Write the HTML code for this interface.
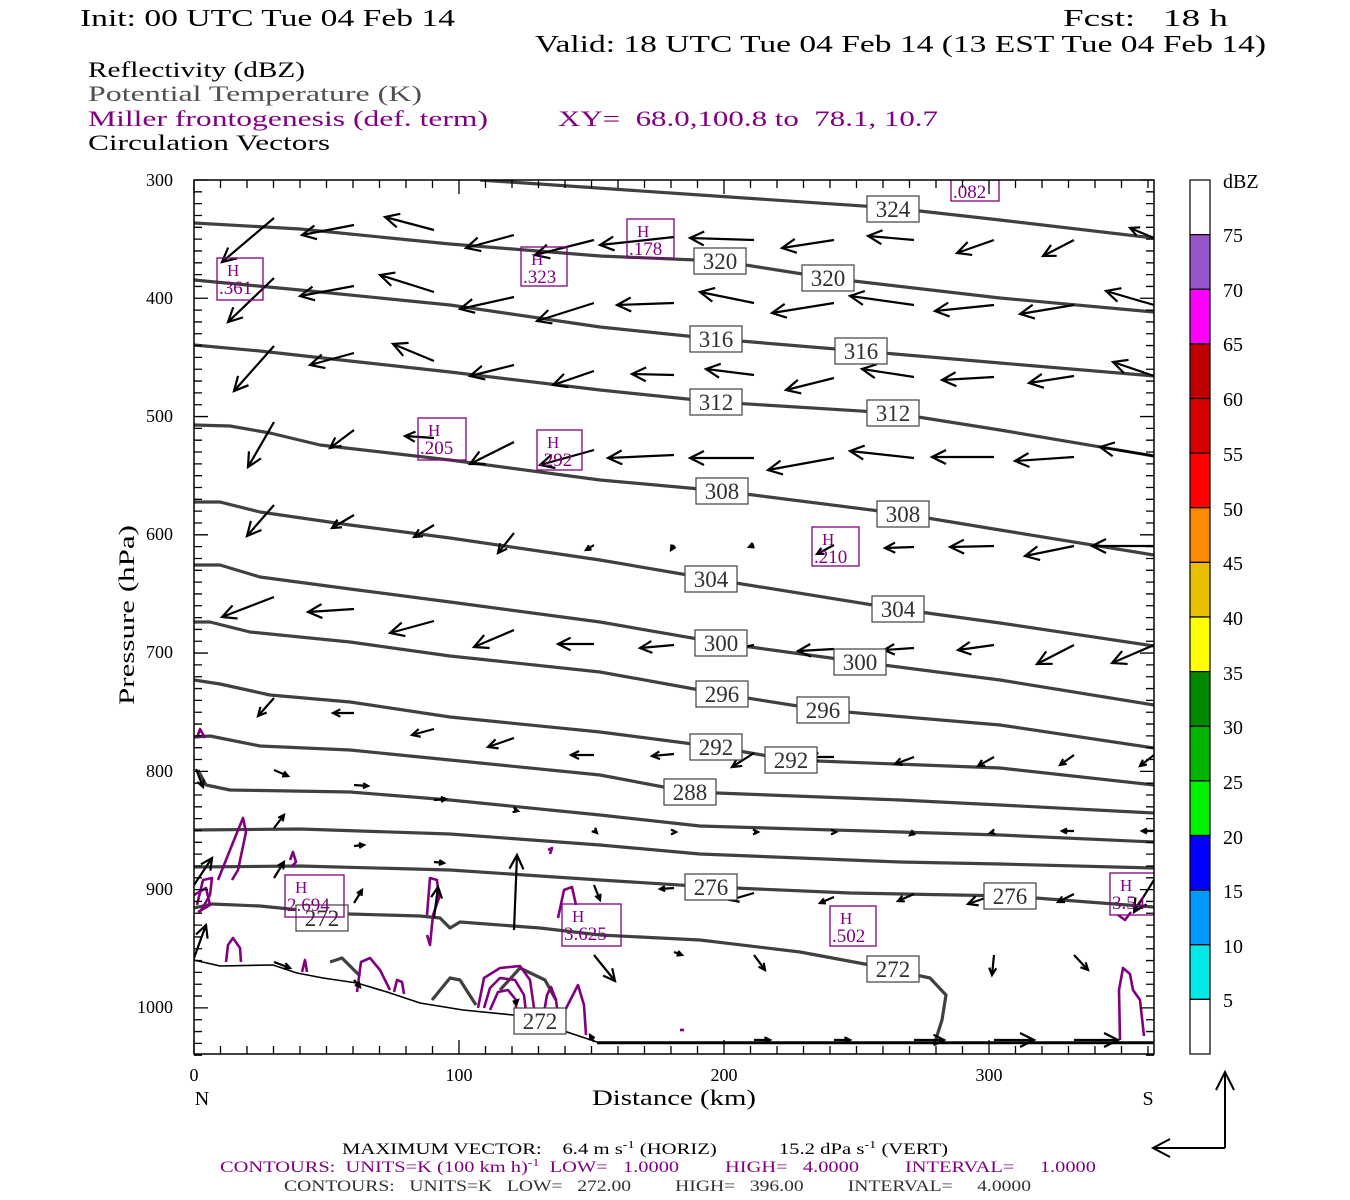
<!DOCTYPE html>
<html><head><meta charset="utf-8"><style>
html,body{margin:0;padding:0;background:#fff}
svg{display:block}
text{font-family:"Liberation Serif",serif;white-space:pre}
</style></head><body>
<svg id="s" width="1350" height="1200" viewBox="0 0 1350 1200" xmlns="http://www.w3.org/2000/svg" xml:space="preserve">
<rect width="1350" height="1200" fill="#fff"/>
<text x="80" y="26" font-size="24" textLength="375" lengthAdjust="spacingAndGlyphs">Init: 00 UTC Tue 04 Feb 14</text>
<text x="1063" y="26" font-size="24" textLength="165" lengthAdjust="spacingAndGlyphs">Fcst:   18 h</text>
<text x="535" y="52" font-size="24" textLength="731" lengthAdjust="spacingAndGlyphs">Valid: 18 UTC Tue 04 Feb 14 (13 EST Tue 04 Feb 14)</text>
<text x="88" y="77" font-size="22" textLength="217" lengthAdjust="spacingAndGlyphs">Reflectivity (dBZ)</text>
<text x="88" y="101" font-size="22" fill="#505050" textLength="334" lengthAdjust="spacingAndGlyphs">Potential Temperature (K)</text>
<text x="88" y="126" font-size="22" fill="#800080" textLength="400" lengthAdjust="spacingAndGlyphs">Miller frontogenesis (def. term)</text>
<text x="558" y="126" font-size="22" fill="#800080" textLength="380" lengthAdjust="spacingAndGlyphs">XY=  68.0,100.8 to  78.1, 10.7</text>
<text x="88" y="150" font-size="22" textLength="242" lengthAdjust="spacingAndGlyphs">Circulation Vectors</text>

<g id="plot"></g>

<g font-size="18">
<text x="173" y="186" text-anchor="end">300</text>
<text x="173" y="304" text-anchor="end">400</text>
<text x="173" y="422" text-anchor="end">500</text>
<text x="173" y="540" text-anchor="end">600</text>
<text x="173" y="658" text-anchor="end">700</text>
<text x="173" y="777" text-anchor="end">800</text>
<text x="173" y="895" text-anchor="end">900</text>
<text x="173" y="1013" text-anchor="end">1000</text>
<text x="194" y="1081" text-anchor="middle">0</text>
<text x="459" y="1081" text-anchor="middle">100</text>
<text x="724" y="1081" text-anchor="middle">200</text>
<text x="989" y="1081" text-anchor="middle">300</text>
<text x="202" y="1105" text-anchor="middle" font-size="20">N</text>
<text x="1148" y="1105" text-anchor="middle" font-size="20">S</text>
</g>
<text x="592" y="1105" font-size="22" textLength="164" lengthAdjust="spacingAndGlyphs">Distance (km)</text>
<text transform="translate(134,705) rotate(-90)" font-size="22" textLength="180" lengthAdjust="spacingAndGlyphs">Pressure (hPa)</text>

<g id="cb"></g>
<g font-size="20">
<text x="1223" y="188">dBZ</text>
<text x="1223" y="242">75</text><text x="1223" y="297">70</text><text x="1223" y="351">65</text>
<text x="1223" y="406">60</text><text x="1223" y="461">55</text><text x="1223" y="516">50</text>
<text x="1223" y="570">45</text><text x="1223" y="625">40</text><text x="1223" y="680">35</text>
<text x="1223" y="734">30</text><text x="1223" y="789">25</text><text x="1223" y="844">20</text>
<text x="1223" y="898">15</text><text x="1223" y="953">10</text><text x="1223" y="1007">5</text>
</g>

<g stroke="#000" stroke-width="2" fill="none">
<path d="M1225 1148 L1225 1072 M1216 1090 L1225 1072 L1234 1090"/>
<path d="M1225 1148 L1153 1148 M1170 1139 L1153 1148 L1170 1157"/>
</g>

<text x="342" y="1154" font-size="16" textLength="606" lengthAdjust="spacingAndGlyphs">MAXIMUM VECTOR:    6.4 m s<tspan font-size="11" dy="-6">-1</tspan><tspan dy="6"> (HORIZ)            15.2 dPa s</tspan><tspan font-size="11" dy="-6">-1</tspan><tspan dy="6"> (VERT)</tspan></text>
<text x="220" y="1172" font-size="16" fill="#800080" textLength="876" lengthAdjust="spacingAndGlyphs">CONTOURS:  UNITS=K (100 km h)<tspan font-size="11" dy="-6">-1</tspan><tspan dy="6">  LOW=   1.0000         HIGH=   4.0000         INTERVAL=     1.0000</tspan></text>
<text x="284" y="1191" font-size="16" fill="#303030" textLength="747" lengthAdjust="spacingAndGlyphs">CONTOURS:   UNITS=K   LOW=   272.00         HIGH=   396.00         INTERVAL=     4.0000</text>
</svg>
<script>
var NS="http://www.w3.org/2000/svg";
function el(p,t,a,txt){var e=document.createElementNS(NS,t);for(var k in a)e.setAttribute(k,a[k]);if(txt!=null)e.textContent=txt;p.appendChild(e);return e;}
var P=document.getElementById('plot');
var L=194,R=1154,T=180,B=1054;
var defs=el(P,'defs',{});var cp=el(defs,'clipPath',{id:'c'});el(cp,'rect',{x:L,y:T,width:R-L,height:B-T});
var g=el(P,'g',{'clip-path':'url(#c)'});
var th=[
[[480,180],[700,195],[893,208],[1000,220],[1154,238]],
[[194,223],[300,229],[450,244],[600,256],[720,261],[828,278],[1000,298],[1154,312]],
[[194,280],[300,290],[450,305],[600,327],[716,339],[860,351],[1000,363],[1154,376]],
[[194,345],[260,351],[350,361],[450,372],[600,390],[716,402],[893,413],[1000,430],[1154,456]],
[[194,425],[230,426],[270,433],[320,445],[450,460],[600,480],[722,491],[903,514],[1000,530],[1154,555]],
[[194,502],[220,502],[260,512],[350,525],[450,538],[600,560],[711,579],[898,609],[1000,623],[1154,646]],
[[194,565],[220,565],[260,577],[350,589],[450,602],[600,622],[721,643],[860,662],[1000,680],[1154,705]],
[[194,622],[210,622],[250,632],[350,642],[450,656],[600,672],[722,694],[823,710],[1000,725],[1154,748]],
[[194,680],[220,684],[270,695],[350,702],[450,717],[600,732],[716,747],[791,760],[1000,768],[1154,785]],
[[194,737],[210,736],[260,746],[350,750],[450,760],[600,775],[690,792],[900,800],[1000,805],[1154,813]],
[[198,770],[206,785],[230,790],[350,792],[450,800],[600,815],[700,826],[900,832],[1000,835],[1154,842]],
[[194,830],[300,829],[450,834],[600,845],[700,854],[900,862],[1000,864],[1154,868]],
[[194,867],[300,866],[450,870],[600,880],[711,887],[850,893],[1010,896],[1154,907]],
[[194,908],[212,904],[260,906],[300,910],[350,914],[420,916],[440,918],[450,928],[460,922],[540,928],[600,935],[700,940],[800,952],[870,965],[930,978],[946,995],[942,1020],[935,1042]],
[[330,962],[342,958],[360,976]],[[432,1000],[450,978],[460,980],[476,1005]],
[[500,990],[520,968],[545,980],[556,1000]]
];
th.forEach(function(p){el(g,'polyline',{points:p.map(function(q){return q.join(',')}).join(' '),fill:'none',stroke:'#404040','stroke-width':3.2,'stroke-linejoin':'round'});});
var gr=[[194,960],[220,966],[273,965],[297,973],[323,978],[357,983],[387,992],[420,1003],[463,1010],[513,1015],[547,1025],[567,1032],[597,1042],[1154,1042]];
el(g,'polyline',{points:gr.map(function(q){return q.join(',')}).join(' '),fill:'none',stroke:'#000','stroke-width':1.6});
el(g,'line',{x1:597,y1:1043,x2:1154,y2:1043,stroke:'#000','stroke-width':2.5});
var mg=[
[[218,880],[232,845],[243,818],[246,832],[238,870],[232,880]],
[[197,905],[203,880],[212,878],[210,895],[200,912]],
[[226,962],[228,945],[233,938],[240,948],[241,962]],
[[194,895],[206,888],[210,905],[198,912]],
[[197,738],[200,729],[205,738]],
[[290,860],[293,852],[296,862],[292,866]],
[[427,915],[430,878],[437,880],[439,898],[433,915],[430,945],[427,935]],
[[558,918],[564,890],[572,887],[576,905]],
[[302,972],[305,960],[307,972]],
[[357,992],[361,962],[370,958],[380,970],[390,990]],
[[394,992],[397,980],[402,982],[404,994]],
[[478,1008],[484,978],[500,968],[520,966],[530,980],[534,1008]],
[[484,1008],[490,988],[500,978],[515,980],[524,995],[526,1012]],
[[490,1010],[498,992],[508,990],[516,1000],[516,1015]],
[[542,1024],[547,995],[551,987],[556,1000],[560,1030]],
[[555,1030],[578,985],[584,1005],[586,1035]],
[[1120,1040],[1119,990],[1123,968],[1130,974],[1133,990],[1140,1000],[1144,1036]],
[[1118,915],[1125,920],[1131,912]],
[[548,850],[552,848],[550,854]],[[680,1030],[684,1030]]
];
mg.forEach(function(p){el(g,'polyline',{points:p.map(function(q){return q.join(',')}).join(' '),fill:'none',stroke:'#800080','stroke-width':2.6,'stroke-linejoin':'round'});});
var A=[
[274,218,222,262],[354,225,302,235],[434,230,385,217],[514,235,466,248],[594,240,535,255],[674,237,600,245],[754,240,690,238],[834,240,782,248],[914,240,868,236],[994,240,957,253],[1074,240,1043,256],[1154,238,1130,228],
[274,278,228,322],[354,286,300,296],[434,292,380,275],[514,297,460,309],[594,303,537,321],[674,303,617,305],[754,303,700,292],[834,303,772,313],[914,305,850,296],[994,305,935,311],[1074,305,1020,314],[1154,305,1106,291],
[274,346,234,391],[354,353,310,365],[434,361,393,344],[514,365,470,376],[594,371,553,385],[674,375,632,374],[754,375,706,369],[834,378,786,390],[914,377,862,369],[994,377,942,380],[1074,376,1029,383],[1154,376,1113,362],
[274,422,248,467],[354,430,330,448],[434,438,405,436],[514,442,470,464],[594,450,540,465],[674,455,608,458],[754,458,690,458],[834,458,768,470],[914,458,850,451],[994,457,932,457],[1074,457,1015,461],[1154,456,1100,447],
[274,505,247,536],[354,515,332,528],[434,525,414,537],[514,533,498,553],[594,545,586,550],[674,545,671,550],[754,545,749,547],[834,545,817,554],[914,547,885,548],[994,546,950,547],[1074,546,1025,556],[1154,546,1092,546],
[274,597,222,617],[354,609,308,612],[434,621,390,633],[514,630,474,647],[594,644,558,644],[674,645,640,648],[754,645,719,652],[834,649,798,651],[914,648,884,650],[994,645,958,650],[1074,645,1037,664],[1154,645,1112,663],
[274,698,258,716],[354,713,333,713],[434,729,412,735],[514,738,488,747],[594,755,571,755],[674,754,652,756],[754,753,732,767],[834,757,810,757],[914,757,895,764],[994,757,978,766],[1074,755,1060,765],[1154,755,1140,766],
[274,770,288,776],[354,785,368,786],[434,800,446,799],[514,810,518,811],[594,830,597,833],[674,832,676,832],[754,832,758,832],[834,832,836,832],[914,832,910,835],[994,832,990,833],[1074,831,1062,831],[1154,831,1142,831],
[274,828,284,815],[354,846,364,845],[434,862,444,863],[514,930,517,855],[594,885,600,900],[674,888,660,889],[754,893,730,900],[834,897,820,903],[914,894,898,901],[994,895,968,904],[1074,894,1058,902],[1154,880,1134,912],
[274,878,284,862],[354,903,362,890],[434,918,438,887],[194,958,206,925],[194,885,212,858],[196,769,203,787],
[594,955,615,981],[674,952,682,955],[754,955,765,970],[994,955,992,975],[1074,955,1088,970],
[914,1040,944,1040],[994,1040,1034,1040],[1074,1040,1118,1040],[754,1040,770,1040],[834,1040,850,1040],[274,962,290,968],[354,980,360,987],[514,1004,518,1000],[594,1042,590,1035]
];
A.forEach(function(a){var dx=a[2]-a[0],dy=a[3]-a[1],len=Math.sqrt(dx*dx+dy*dy);if(len<0.5)return;
var ux=dx/len,uy=dy/len,h=Math.min(14,Math.max(5,len*0.35)),w=h*0.5;
var bx=a[2]-ux*h,by=a[3]-uy*h;
el(g,'path',{d:'M'+a[0]+' '+a[1]+'L'+a[2]+' '+a[3]+'M'+(bx-uy*w)+' '+(by+ux*w)+'L'+a[2]+' '+a[3]+'L'+(bx+uy*w)+' '+(by-ux*w),fill:'none',stroke:'#000','stroke-width':2.2});});
var TL=[[893,209,'324'],[720,261,'320'],[828,278,'320'],[716,339,'316'],[861,351,'316'],[716,402,'312'],[893,413,'312'],[722,491,'308'],[903,514,'308'],[711,579,'304'],[898,609,'304'],[721,643,'300'],[860,662,'300'],[722,694,'296'],[823,710,'296'],[716,747,'292'],[791,760,'292'],[690,792,'288'],[711,887,'276'],[1010,896,'276'],[322,918,'272'],[893,969,'272'],[540,1021,'272']];
TL.forEach(function(t){el(g,'rect',{x:t[0]-26,y:t[1]-13,width:52,height:26,fill:'#fff',stroke:'#404040','stroke-width':1.2});
el(g,'text',{x:t[0],y:t[1]+8,'font-size':23,'text-anchor':'middle',fill:'#303030'},t[2]);});
var HL=[[951,180,48,21,null,'.082'],[627,219,47,39,'H','.178'],[521,247,46,39,'H','.323'],[217,258,46,42,'H','.361'],[418,418,48,42,'H','.205'],[537,430,45,40,'H','.292'],[812,527,47,39,'H','.210'],[285,875,59,42,'H','2.694'],[562,904,59,42,'H','3.625'],[830,906,46,40,'H','.502'],[1110,873,50,42,'H','3.54']];
HL.forEach(function(h){el(g,'rect',{x:h[0],y:h[1],width:h[2],height:h[3],fill:'none',stroke:'#800080','stroke-width':1.3});
if(h[4]){el(g,'text',{x:h[0]+10,y:h[1]+18,'font-size':17,fill:'#800080'},'H');el(g,'text',{x:h[0]+2,y:h[1]+36,'font-size':19,fill:'#800080'},h[5]);}
else el(g,'text',{x:h[0]+2,y:h[1]+18,'font-size':19,fill:'#800080'},h[5]);});
el(P,'rect',{x:L,y:T,width:R-L,height:B-T,fill:'none',stroke:'#000','stroke-width':1.5});
var tk='';
for(var k=0;k<=36;k++){var x=194+k*26.5,len=(k%10==0)?14:8;tk+='M'+x+' '+B+'v-'+len+'M'+x+' '+T+'v'+len;}
for(var p=300;p<=1040;p+=10){var y=180+(p-300)*1.1827,len=(p%100==0)?14:8;tk+='M'+L+' '+y+'h'+len+'M'+R+' '+y+'h-'+len;}
el(P,'path',{d:tk,stroke:'#000','stroke-width':1.3,fill:'none'});
var CB=document.getElementById('cb');
var cols=['#ffffff','#9955cc','#ff00ff','#c00000','#d60000','#ff0000','#ff8c00','#e8c000','#ffff00','#008800','#00b400','#00f000','#0000ff','#0099ff','#00e8e8','#ffffff'];
var sh=(1054-180)/16;
cols.forEach(function(c,i){el(CB,'rect',{x:1190,y:180+i*sh,width:20,height:sh,fill:c,stroke:'#000','stroke-width':1.2});});
</script>
</body></html>
